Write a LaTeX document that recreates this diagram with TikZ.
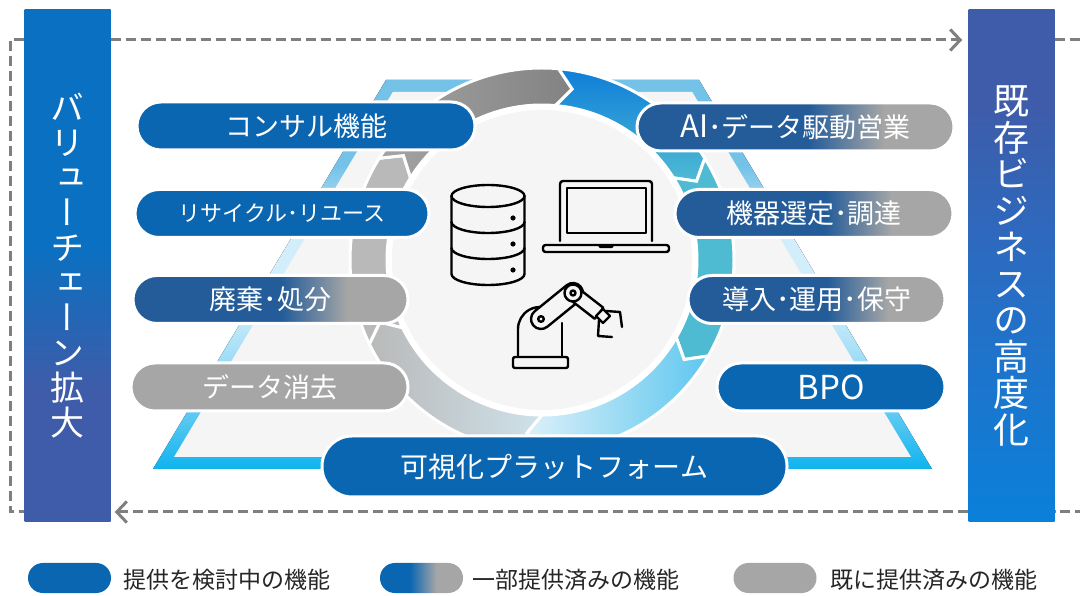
\documentclass[tikz,border=0pt]{standalone}
\usepackage{fontspec}
\setmainfont{Noto Sans CJK JP}
\newfontfamily\vertfont{Noto Sans CJK JP}[RawFeature=+vert]
\usetikzlibrary{arrows.meta}

\definecolor{pillblue}{HTML}{0A66B1}
\definecolor{pillsteel}{HTML}{235C99}
\definecolor{pillgray}{HTML}{A6A6A6}
\definecolor{barblue}{HTML}{0A70C1}
\definecolor{barpurple}{HTML}{3E5CA9}
\definecolor{barmid}{HTML}{2A6CC2}
\definecolor{barbright}{HTML}{0A80DA}
\definecolor{loopgray}{HTML}{7F7F7F}
\definecolor{innergray}{HTML}{F5F5F5}
\definecolor{textgray}{HTML}{262626}
\definecolor{bandA}{HTML}{10B3EE}
\definecolor{bandB}{HTML}{7FD3F5}
\definecolor{bandC}{HTML}{D2EEFA}
\definecolor{bandD}{HTML}{74C2E8}
\definecolor{ringblue}{HTML}{0E7ED9}
\definecolor{ringteal}{HTML}{4FBBD3}
\definecolor{ringlight}{HTML}{5EC7EF}
\definecolor{ringpale}{HTML}{DCF0F9}
\definecolor{ringgray}{HTML}{B9B9B9}
\definecolor{ringmid}{HTML}{A4A4A4}
\definecolor{ringdark}{HTML}{828282}
\definecolor{ringmist}{HTML}{CFE2EA}

% narrow middle dot for the labels
\newcommand{\nakaguro}{･}

% fades for the pills, bars and the trapezoid band
\pgfdeclarehorizontalshading{pillfade}{100bp}{color(0bp)=(pillsteel); color(52bp)=(pillsteel); color(64bp)=(pillgray); color(100bp)=(pillgray)}
\pgfdeclarehorizontalshading{keyfade}{100bp}{color(0bp)=(pillblue); color(43bp)=(pillblue); color(59bp)=(pillgray); color(100bp)=(pillgray)}
\pgfdeclareverticalshading{lbarfade}{100bp}{color(0bp)=(barpurple); color(38bp)=(barpurple); color(52bp)=(barblue); color(100bp)=(barblue)}
\pgfdeclareverticalshading{rbarfade}{100bp}{color(0bp)=(barbright); color(25bp)=(barbright); color(50bp)=(barmid); color(66bp)=(barpurple); color(100bp)=(barpurple)}
\pgfdeclareverticalshading{bandfade}{100bp}{color(0bp)=(bandA); color(25bp)=(bandA); color(35bp)=(bandB); color(46bp)=(bandC); color(55bp)=(bandC); color(64bp)=(bandD); color(100bp)=(bandD)}

\tikzset{
  bar/.style={minimum width=86pt, minimum height=512pt, inner sep=0pt,
    text=white, align=center},
  loopline/.style={draw=loopgray, line width=3pt, dash pattern=on 10pt off 5pt},
  pill/.style={draw=white, line width=3pt, text=white, inner sep=0pt,
    minimum height=48pt, rounded corners=23.9pt, font=\fontsize{27}{27}\selectfont},
  seg/.style={draw=white, line width=3pt},
  segA/.style={seg, fill=ringgray},
  segB/.style={seg, left color=ringmid, right color=ringdark},
  segC/.style={seg, top color=ringblue, bottom color=ringteal},
  segD/.style={seg, fill=ringteal},
  segE/.style={seg, left color=ringpale, middle color=ringlight, right color=ringlight},
  segF/.style={seg, left color=ringgray, right color=ringmist},
  icon/.style={draw=black, line width=2.4pt, line join=round, line cap=round},
  keypill/.style={minimum width=83pt, minimum height=30pt, rounded corners=14.9pt, inner sep=0pt},
  keytext/.style={anchor=west, text=textgray, inner sep=0pt, font=\fontsize{23}{23}\selectfont},
}

\begin{document}
\begin{tikzpicture}[x=1pt, y=1pt]
  \useasboundingbox (0,0) rectangle (1080,595);
  \fill[white] (0,0) rectangle (1080,595);

  % side bars
  \node[bar, shading=lbarfade, font=\vertfont\fontsize{34}{35}\selectfont] (lbar) at (67.5,329)
    {バ\\リ\\ュ\\ー\\チ\\ェ\\ー\\ン\\拡\\大};
  \node[bar, shading=rbarfade, font=\vertfont\fontsize{36}{36.5}\selectfont] (rbar) at (1011.5,329)
    {既\\存\\ビ\\ジ\\ネ\\ス\\の\\高\\度\\化};

  % dashed loop between the bars
  \coordinate (tl) at (10,555);
  \coordinate (bl) at (10,83);
  \coordinate (tr) at (1085,555);
  \coordinate (br) at (1085,83);
  \draw[loopline] (lbar.west |- tl) -- (tl) -- (bl) -- (lbar.west |- bl);
  \draw[loopline, -{Straight Barb[length=10pt,width=21pt]}, shorten >=6pt]
    (lbar.east |- tl) -- (rbar.west |- tl);
  \draw[loopline] (rbar.east |- tl) -- (tr);
  \draw[loopline] (br) -- (rbar.east |- bl);
  \draw[loopline, -{Straight Barb[length=10pt,width=21pt]}, shorten >=4pt]
    (rbar.west |- bl) -- (lbar.east |- bl);

  % trapezoid band
  \fill[shading=bandfade] (153,126) -- (932,126) -- (699,515) -- (386,515) -- cycle;
  \fill[innergray] (174,138) -- (911,138) -- (692.2,503) -- (392.8,503) -- cycle;

  % ring of arrow segments and the centre disc
  \begin{scope}[shift={(542,335)}]
    \foreach \a/\b/\sty in {206/148/segA, 148/85/segB, 85/32/segC,
                            32/-30/segD, -30/-90/segE, -90/-154/segF}
      \draw[\sty] (\a:192) arc[start angle=\a, end angle=\b, radius=192pt]
        -- (\b-5:173.5) -- (\b:155) arc[start angle=\b, end angle=\a, radius=155pt]
        -- (\a-5:173.5) -- cycle;
    \fill[white] (0,0) circle (156);
    \fill[innergray] (0,0) circle (150);
  \end{scope}

  % database
  \draw[icon] (488,399) ellipse[x radius=36.5, y radius=11];
  \draw[icon] (451.5,399) -- (451.5,321)
    arc[start angle=180, end angle=360, x radius=36.5, y radius=11] -- (524.5,399);
  \foreach \h in {373,347}
    \draw[icon] (451.5,\h) arc[start angle=180, end angle=360, x radius=36.5, y radius=11];
  \foreach \h in {377,351,325}
    \fill (513,\h) circle (2.6);

  % laptop
  \draw[icon, rounded corners=3pt] (560,354) -- (560,414) -- (652,414) -- (652,354);
  \draw[icon] (567,362) rectangle (646,407);
  \draw[icon, rounded corners=2.5pt] (543,350) -- (669,350) -- (669,343) -- (543,343) -- cycle;
  \draw[icon] (599,350) -- (600.5,348) -- (611.5,348) -- (613,350);

  % robot arm
  \draw[icon, rounded corners=2pt] (513,227) rectangle (568,238);
  \draw[icon] (518,238) -- (518,266) arc[start angle=180, end angle=80, radius=22pt];
  \draw[icon] (562,238) -- (562,272);
  \begin{scope}[shift={(541,276)}, rotate=39.1]
    \filldraw[icon, fill=innergray] (0,-10) -- (41.2,-10) arc[start angle=-90, end angle=90, radius=10pt]
      -- (0,10) arc[start angle=90, end angle=270, radius=10pt] -- cycle;
  \end{scope}
  \draw[icon] (541,276) circle (2.8);
  \begin{scope}[shift={(573,302)}, rotate=-37.9]
    \filldraw[icon, fill=innergray] (0,-7) -- (33,-7) -- (33,7) -- (0,7);
  \end{scope}
  \filldraw[icon, fill=innergray] (573,302) circle (8.5);
  \draw[icon] (573,302) circle (2.5);
  \filldraw[icon, fill=innergray] (596,279) -- (603,286) -- (610,279) -- (603,272) -- cycle;
  \draw[icon] (606,284) -- (620,283) -- (622,268);
  \draw[icon] (599,275) -- (598,259) -- (612,258);

  % function pills
  \node[pill, fill=pillblue, minimum width=338pt] (consul) at (306,469) {コンサル機能};
  \node[pill, fill=pillblue, minimum width=294pt, font=\fontsize{22}{22}\selectfont]
    (recycle) at (282,381.5) {リサイクル\nakaguro リユース};
  \node[pill, shading=pillfade, minimum width=275pt, font=\fontsize{27}{27}\selectfont]
    (dispose) at (270.5,295.5) {廃棄\nakaguro 処分};
  \node[pill, fill=pillgray, minimum width=277pt] (erase) at (269.5,208) {データ消去};
  \node[pill, shading=pillfade, minimum width=317pt] (aisales) at (795.5,468)
    {{\fontsize{31}{31}\selectfont AI}\nakaguro データ駆動営業};
  \node[pill, shading=pillfade, minimum width=278pt] (procure) at (814,381.5) {機器選定\nakaguro 調達};
  \node[pill, shading=pillfade, minimum width=257pt, font=\fontsize{27}{27}\selectfont]
    (operate) at (816.5,295.5) {導入\nakaguro 運用\nakaguro 保守};
  \node[pill, fill=pillblue, minimum width=228pt, font=\fontsize{33}{33}\selectfont]
    (bpo) at (831,208) {BPO};
  \node[pill, fill=pillblue, minimum width=465pt, minimum height=61pt, rounded corners=30pt,
    font=\fontsize{28}{28}\selectfont] (platform) at (554.5,128.5) {可視化プラットフォーム};

  % legend
  \node[keypill, fill=pillblue] (keyplan) at (69.5,17) {};
  \node[keytext] (keyplantext) at (123,15) {提供を検討中の機能};
  \node[keypill, shading=keyfade] (keypart) at (421.5,17) {};
  \node[keytext] (keyparttext) at (472,15) {一部提供済みの機能};
  \node[keypill, fill=pillgray] (keydone) at (775,17) {};
  \node[keytext] (keydonetext) at (830,15) {既に提供済みの機能};
\end{tikzpicture}
\end{document}
